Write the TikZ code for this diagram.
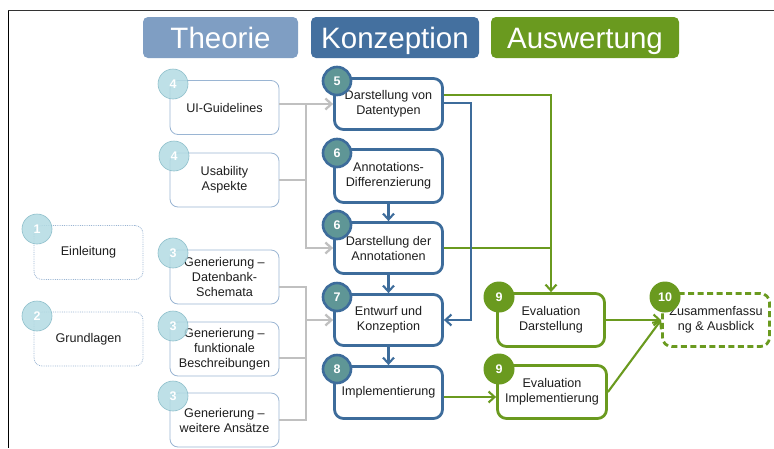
\documentclass[tikz,border=0pt]{standalone}
\usepackage{fontspec}
\setmainfont{Liberation Sans}
\usetikzlibrary{arrows.meta}

\definecolor{theoHead}{HTML}{7F9EC3}
\definecolor{konzHead}{HTML}{44709F}
\definecolor{konzLine}{HTML}{3D6C9B}
\definecolor{tealFill}{HTML}{5F9696}
\definecolor{evalGreen}{HTML}{6A9A1F}
\definecolor{paleLine}{HTML}{9AB5D3}
\definecolor{paleFill}{HTML}{B3DBE3}
\definecolor{paleRing}{HTML}{8EBFCB}
\definecolor{linkGray}{HTML}{C0C0C0}
\definecolor{textDark}{HTML}{1E1E1E}

\newcommand\dgbody{\fontsize{12.6}{15}\selectfont}

\tikzset{
  header/.style={rectangle, rounded corners=5pt, text=white, inner sep=0pt,
    font=\fontsize{29.5}{32}\selectfont, minimum height=41pt, text height=21pt, text depth=0pt},
  basebox/.style={rectangle, fill=white, align=center, inner sep=0pt,
    font=\dgbody, text=textDark},
  theobox/.style={basebox, rounded corners=8pt, draw=paleLine, line width=0.8pt,
    minimum width=109pt, minimum height=54pt},
  introbox/.style={theobox, densely dotted},
  konzbox/.style={basebox, rounded corners=9pt, draw=konzLine, line width=2.8pt,
    minimum width=108pt, minimum height=51pt},
  evalbox/.style={basebox, rounded corners=9pt, draw=evalGreen, line width=2.8pt,
    minimum height=53pt},
  sumbox/.style={evalbox, dash pattern=on 6pt off 3.5pt},
  numbase/.style={circle, inner sep=0pt, text=white, font=\bfseries\fontsize{12.5}{12.5}\selectfont},
  lightnum/.style={numbase, fill=paleFill, fill opacity=0.85, text opacity=1,
    draw=paleRing, line width=0.6pt, minimum size=30pt},
  konznum/.style={numbase, fill=tealFill, draw=konzLine, line width=2.6pt, minimum size=28pt},
  evalnum/.style={numbase, fill=evalGreen, draw=evalGreen, line width=1pt, minimum size=30pt},
  tip/.style={-{Straight Barb[length=6pt,width=11pt]}},
  graylink/.style={draw=linkGray, line width=2.3pt},
  bluelink/.style={draw=konzLine, line width=2.1pt},
  greenlink/.style={draw=evalGreen, line width=2.1pt},
}

\begin{document}
\begin{tikzpicture}[x=1pt, y=-1pt]
\useasboundingbox (0,0) rectangle (774,448);

% outer frame (top and left edges only)
\draw[color=black!80, line width=1.4pt] (8.4,10.7) -- (774,10.7);
\draw[color=black, line width=1.4pt] (8.4,10.7) -- (8.4,448);

% phase headers
\node[header, fill=theoHead, minimum width=155pt] (hTheo) at (220.5,37.5) {Theorie};
\node[header, fill=konzHead, minimum width=168pt] (hKonz) at (395,37.5) {Konzeption};
\node[header, fill=evalGreen, minimum width=188pt] (hAusw) at (585,37.5) {Auswertung};

% introductory chapters
\node[introbox] (einl) at (88.5,252.5) {Einleitung};
\node[introbox] (grund) at (88.5,339) {Grundlagen};

% theory chapters
\node[theobox] (ui) at (224.5,107.5) {UI-Guidelines};
\node[theobox] (usab) at (224.5,180) {Usability\\Aspekte};
\node[theobox] (gen1) at (224.5,277) {Generierung --\\Datenbank-\\Schemata};
\node[theobox] (gen2) at (224.5,349) {Generierung --\\funktionale\\Beschreibungen};
\node[theobox] (gen3) at (224.5,420) {Generierung --\\weitere Ansätze};

% concept chapters
\node[konzbox] (k5) at (388.5,104) {Darstellung von\\Datentypen};
\node[konzbox, minimum height=53pt] (k6a) at (388.5,176) {Annotations-\\Differenzierung};
\node[konzbox] (k6b) at (388.5,248) {Darstellung der\\Annotationen};
\node[konzbox] (k7) at (388.5,320) {Entwurf und\\Konzeption};
\node[konzbox, minimum height=52pt] (k8) at (388.5,392.5) {Implementierung};

% evaluation chapters
\node[evalbox, minimum width=107pt] (e9a) at (551,320) {Evaluation\\Darstellung};
\node[evalbox, minimum width=109pt] (e9b) at (552,392) {Evaluation\\Implementierung};
\node[sumbox, minimum width=107pt] (sum) at (716,320) {Zusammenfassu\\ng \& Ausblick};

% junction coordinates
\coordinate (bus) at (306,0);
\coordinate (g3top) at (306,287);
\coordinate (g3mid) at (306,358);
\coordinate (g3bot) at (306,420);
\coordinate (bturn) at (471,103);
\coordinate (gturn) at (551,95);
\coordinate (implrow) at (470,397);

% theory -> concept links
\draw[graylink, tip] (k5.west -| ui.east) -- (k5.west);
\draw[graylink, tip] (k5.west -| bus) |- (k6b.west);
\draw[graylink] (usab.east) -- (usab.east -| bus);
\draw[graylink] (gen1.east |- g3top) -- (g3top) -- (g3bot) -- (gen3.east);
\draw[graylink] (gen2.east |- g3mid) -- (g3mid);
\draw[graylink, tip] (k7.west -| bus) -- (k7.west);

% concept flow
\draw[bluelink, tip] (k6a.south) -- (k6b.north);
\draw[bluelink, tip] (k6b.south) -- (k7.north);
\draw[bluelink, tip] (k7.south) -- (k8.north);
\draw[greenlink] (k6b.east) -- (k6b.east -| gturn);
\draw[bluelink, tip] (bturn -| k5.east) -- (bturn) |- (k7.east);
\draw[greenlink, tip] (gturn -| k5.east) -- (gturn) -- (e9a.north);

% evaluation flow
\draw[greenlink, tip] (implrow -| k8.east) -- (implrow -| e9b.west);
\draw[greenlink, tip] (e9a.east) -- (e9a.east -| sum.west);
\draw[greenlink, tip] (e9b.east) -- (sum.west);

% chapter numbers
\node[lightnum] (n1) at (37,229) {1};
\node[lightnum] (n2) at (37,316) {2};
\node[lightnum] (n4a) at (173,84) {4};
\node[lightnum] (n4b) at (174,156) {4};
\node[lightnum] (n3a) at (173,253) {3};
\node[lightnum] (n3b) at (173,326) {3};
\node[lightnum] (n3c) at (173,396) {3};
\node[konznum] (n5) at (337,81) {5};
\node[konznum] (n6a) at (337,153) {6};
\node[konznum] (n6b) at (337,225) {6};
\node[konznum] (n7) at (337,297) {7};
\node[konznum] (n8) at (337,369) {8};
\node[evalnum] (n9a) at (499,297) {9};
\node[evalnum] (n9b) at (499,369) {9};
\node[evalnum] (n10) at (665,297) {10};
\end{tikzpicture}
\end{document}
